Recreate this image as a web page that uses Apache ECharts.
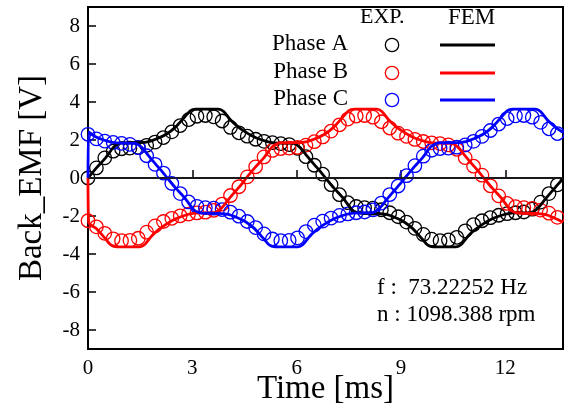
<!DOCTYPE html>
<html>
<head>
<meta charset="utf-8">
<script src="https://cdn.jsdelivr.net/npm/echarts@6/dist/echarts.min.js"></script>
<style>
  html, body { margin: 0; padding: 0; background: #fff; }
  #chart { width: 564px; height: 411px; }
</style>
</head>
<body>
<div id="chart"></div>
<script>
// Measured back-EMF (EXP.) sample times [ms]
const expTime = [0, 0.241, 0.482, 0.723, 0.964, 1.205, 1.446, 1.687, 1.928, 2.169,
  2.41, 2.651, 2.892, 3.133, 3.374, 3.615, 3.856, 4.097, 4.338, 4.579,
  4.82, 5.061, 5.302, 5.543, 5.784, 6.025, 6.266, 6.507, 6.748, 6.989,
  7.23, 7.471, 7.712, 7.953, 8.194, 8.435, 8.676, 8.917, 9.158, 9.399,
  9.64, 9.881, 10.122, 10.363, 10.604, 10.845, 11.086, 11.327, 11.568, 11.809,
  12.05, 12.291, 12.532, 12.773, 13.014, 13.255, 13.496];

// Measured back-EMF per phase [V]
const expA = [0, 0.53, 1.06, 1.41, 1.54, 1.57, 1.61, 1.72, 1.89, 2.13,
  2.43, 2.76, 3.07, 3.25, 3.29, 3.22, 3.0, 2.66, 2.38, 2.2,
  2.04, 1.93, 1.86, 1.81, 1.76, 1.56, 1.12, 0.67, 0.2, -0.35,
  -0.88, -1.3, -1.5, -1.56, -1.59, -1.67, -1.83, -2.04, -2.32, -2.65,
  -2.97, -3.22, -3.3, -3.26, -3.12, -2.78, -2.45, -2.25, -2.09, -1.96,
  -1.88, -1.83, -1.79, -1.64, -1.27, -0.82, -0.36];
const expB = [-2.25, -2.57, -2.91, -3.2, -3.3, -3.28, -3.17, -2.85, -2.52, -2.29,
  -2.12, -1.99, -1.9, -1.84, -1.8, -1.7, -1.37, -0.92, -0.46, 0.06,
  0.59, 1.11, 1.45, 1.55, 1.57, 1.61, 1.73, 1.91, 2.16, 2.47,
  2.8, 3.1, 3.26, 3.29, 3.2, 2.96, 2.63, 2.36, 2.19, 2.03,
  1.92, 1.85, 1.81, 1.74, 1.51, 1.07, 0.62, 0.15, -0.41, -0.94,
  -1.34, -1.51, -1.56, -1.6, -1.69, -1.85, -2.07];
const expC = [2.3, 2.06, 1.94, 1.87, 1.82, 1.77, 1.6, 1.17, 0.72, 0.26,
  -0.29, -0.82, -1.26, -1.49, -1.56, -1.59, -1.66, -1.8, -2.01, -2.29,
  -2.61, -2.94, -3.21, -3.3, -3.28, -3.15, -2.82, -2.48, -2.27, -2.11,
  -1.97, -1.89, -1.83, -1.79, -1.68, -1.32, -0.87, -0.42, 0.12, 0.65,
  1.15, 1.46, 1.55, 1.57, 1.62, 1.74, 1.93, 2.19, 2.5, 2.84,
  3.13, 3.27, 3.29, 3.2, 2.93, 2.59, 2.34];

// FEM simulated back-EMF, phase A
const femTimeA = [0, 0.25, 0.5, 0.75, 0.9, 1.0, 1.5, 1.75, 2.0, 2.25, 2.5, 2.75, 2.95, 3.1,
  3.75, 3.9, 4.1, 4.3, 4.5, 4.75, 5.0, 5.25, 5.5, 5.9, 6.1, 6.3, 6.5, 6.7, 6.83,
  7.08, 7.33, 7.58, 7.73, 7.83, 8.33, 8.58, 8.83, 9.08, 9.33, 9.58, 9.78, 9.93,
  10.58, 10.73, 10.93, 11.13, 11.33, 11.58, 11.83, 12.08, 12.33, 12.73, 12.93,
  13.13, 13.33, 13.53, 13.66];
const femA = [0, 0.55, 1.05, 1.65, 1.82, 1.85, 1.86, 1.92, 2.08, 2.3, 2.65, 3.15, 3.55, 3.62,
  3.62, 3.5, 3.05, 2.72, 2.45, 2.18, 2.0, 1.88, 1.84, 1.82, 1.6, 1.15, 0.72, 0.3, 0,
  -0.55, -1.05, -1.65, -1.82, -1.85, -1.86, -1.92, -2.08, -2.3, -2.65, -3.15, -3.55, -3.62,
  -3.62, -3.5, -3.05, -2.72, -2.45, -2.18, -2.0, -1.88, -1.84, -1.82, -1.6,
  -1.15, -0.72, -0.3, 0];

// FEM simulated back-EMF, phase B
const femTimeB = [0, 0.02, 0.23, 0.48, 0.68, 0.83, 1.48, 1.63, 1.83, 2.03, 2.23, 2.48, 2.73,
  2.98, 3.23, 3.63, 3.83, 4.03, 4.23, 4.43, 4.55, 4.8, 5.05, 5.3, 5.45, 5.55,
  6.05, 6.3, 6.55, 6.8, 7.05, 7.3, 7.5, 7.65, 8.3, 8.45, 8.65, 8.85, 9.05, 9.3,
  9.55, 9.8, 10.05, 10.45, 10.65, 10.85, 11.05, 11.25, 11.38, 11.63, 11.88,
  12.13, 12.28, 12.38, 12.88, 13.13, 13.38, 13.63, 13.66];
const femB = [0, -2.35, -2.65, -3.15, -3.55, -3.62, -3.62, -3.5, -3.05, -2.72, -2.45, -2.18, -2.0,
  -1.88, -1.84, -1.82, -1.6, -1.15, -0.72, -0.3, 0, 0.55, 1.05, 1.65, 1.82, 1.85,
  1.86, 1.92, 2.08, 2.3, 2.65, 3.15, 3.55, 3.62, 3.62, 3.5, 3.05, 2.72, 2.45, 2.18,
  2.0, 1.88, 1.84, 1.82, 1.6, 1.15, 0.72, 0.3, 0, -0.55, -1.05,
  -1.65, -1.82, -1.85, -1.86, -1.92, -2.08, -2.3, -2.33];

// FEM simulated back-EMF, phase C
const femTimeC = [0, 0.02, 0.2, 0.45, 0.7, 0.95, 1.35, 1.55, 1.75, 1.95, 2.15, 2.28, 2.53, 2.78,
  3.03, 3.18, 3.28, 3.78, 4.03, 4.28, 4.53, 4.78, 5.03, 5.23, 5.38, 6.03, 6.18,
  6.38, 6.58, 6.78, 7.03, 7.28, 7.53, 7.78, 8.18, 8.38, 8.58, 8.78, 8.98, 9.11,
  9.36, 9.61, 9.86, 10.01, 10.11, 10.61, 10.86, 11.11, 11.36, 11.61, 11.86, 12.06,
  12.21, 12.86, 13.01, 13.21, 13.41, 13.61, 13.66];
const femC = [0, 2.42, 2.18, 2.0, 1.88, 1.84, 1.82, 1.6, 1.15, 0.72, 0.3, 0, -0.55, -1.05,
  -1.65, -1.82, -1.85, -1.86, -1.92, -2.08, -2.3, -2.65, -3.15, -3.55, -3.62, -3.62, -3.5,
  -3.05, -2.72, -2.45, -2.18, -2.0, -1.88, -1.84, -1.82, -1.6, -1.15, -0.72, -0.3, 0,
  0.55, 1.05, 1.65, 1.82, 1.85, 1.86, 1.92, 2.08, 2.3, 2.65, 3.15, 3.55,
  3.62, 3.62, 3.5, 3.05, 2.72, 2.45, 2.4];

// Axis ticks and annotations
const xTicks = [0, 3, 6, 9, 12];
const yTicks = [-8, -6, -4, -2, 0, 2, 4, 6, 8];
const phaseNames = ['Phase A', 'Phase B', 'Phase C'];
const phaseColors = ['#000000', '#ff0000', '#0000ff'];
const infoLines = ['f :  73.22252 Hz', 'n : 1098.388 rpm'];

const SERIF = '"Liberation Serif", "Times New Roman", serif';

function pairs(xs, ys) {
  return xs.map((x, i) => [x, ys[i]]);
}

const expSets = [expA, expB, expC];
const femSets = [[femTimeA, femA], [femTimeB, femB], [femTimeC, femC]];

const series = [];
expSets.forEach((vals, k) => {
  series.push({
    name: phaseNames[k] + ' EXP.',
    type: 'line',
    data: pairs(expTime, vals),
    lineStyle: { width: 0, opacity: 0 },
    symbol: 'circle',
    symbolSize: 13.5,
    showAllSymbol: true,
    itemStyle: { color: 'rgba(255,255,255,0)', borderColor: phaseColors[k], borderWidth: 1.3 },
    z: 2,
    animation: false
  });
});
femSets.forEach((tv, k) => {
  series.push({
    name: phaseNames[k] + ' FEM',
    type: 'line',
    data: pairs(tv[0], tv[1]),
    showSymbol: false,
    smooth: 0.25,
    lineStyle: { color: phaseColors[k], width: 2.8 },
    z: 3,
    animation: false
  });
});
// horizontal zero reference line
series[0].markLine = {
  silent: true,
  symbol: 'none',
  label: { show: false },
  lineStyle: { color: '#222', width: 1.5, type: 'solid' },
  data: [{ yAxis: 0 }],
  animation: false
};

// legend table drawn as graphics
const legendGraphics = [
  { type: 'text', left: 360, top: 6, style: { text: 'EXP.', font: '22px ' + SERIF, fill: '#000' } },
  { type: 'text', left: 448, top: 6, style: { text: 'FEM', font: '23px ' + SERIF, fill: '#000' } }
];
const rowY = [45, 73, 100];
phaseNames.forEach((nm, k) => {
  legendGraphics.push({
    type: 'text', right: 564 - 348, top: rowY[k] - 13,
    style: { text: nm, font: '23px ' + SERIF, fill: '#000' }
  });
  legendGraphics.push({
    type: 'circle', shape: { cx: 392, cy: rowY[k], r: 6.7 },
    style: { fill: 'none', stroke: phaseColors[k], lineWidth: 1.3 }
  });
  legendGraphics.push({
    type: 'line', shape: { x1: 440, y1: rowY[k], x2: 495, y2: rowY[k] },
    style: { stroke: phaseColors[k], lineWidth: 2.8 }
  });
});
infoLines.forEach((s, k) => {
  legendGraphics.push({
    type: 'text', left: 377, top: 276 + k * 27,
    style: { text: s, font: '23px ' + SERIF, fill: '#000' }
  });
});

const chart = echarts.init(document.getElementById('chart'), null, { renderer: 'canvas' });
chart.setOption({
  animation: false,
  backgroundColor: '#fff',
  grid: {
    left: 88, right: 1, top: 7, bottom: 62,
    containLabel: false,
    outerBoundsMode: 'none',
    show: true, borderColor: '#000', borderWidth: 2, backgroundColor: 'transparent'
  },
  xAxis: {
    type: 'value', min: 0, max: 13.657,
    name: 'Time [ms]', nameLocation: 'middle', nameGap: 24, nameMoveOverlap: false,
    nameTextStyle: { fontFamily: SERIF, fontSize: 33, color: '#000' },
    axisLine: { show: true, lineStyle: { color: '#000', width: 2 } },
    axisTick: { show: true, inside: true, length: 8, customValues: xTicks, lineStyle: { color: '#000', width: 1.5 } },
    axisLabel: { customValues: xTicks, fontFamily: SERIF, fontSize: 21, color: '#000', margin: 9 },
    splitLine: { show: false }
  },
  yAxis: {
    type: 'value', min: -9, max: 9,
    name: 'Back_EMF [V]', nameLocation: 'middle', nameGap: 39.5, nameMoveOverlap: false,
    nameTextStyle: { fontFamily: SERIF, fontSize: 33, color: '#000' },
    axisLine: { show: true, lineStyle: { color: '#000', width: 2 } },
    axisTick: { show: true, inside: true, length: 8, customValues: yTicks, lineStyle: { color: '#000', width: 1.5 } },
    axisLabel: { customValues: yTicks, fontFamily: SERIF, fontSize: 21, color: '#000', margin: 8 },
    splitLine: { show: false }
  },
  graphic: legendGraphics,
  series: series
});
</script>
</body>
</html>
